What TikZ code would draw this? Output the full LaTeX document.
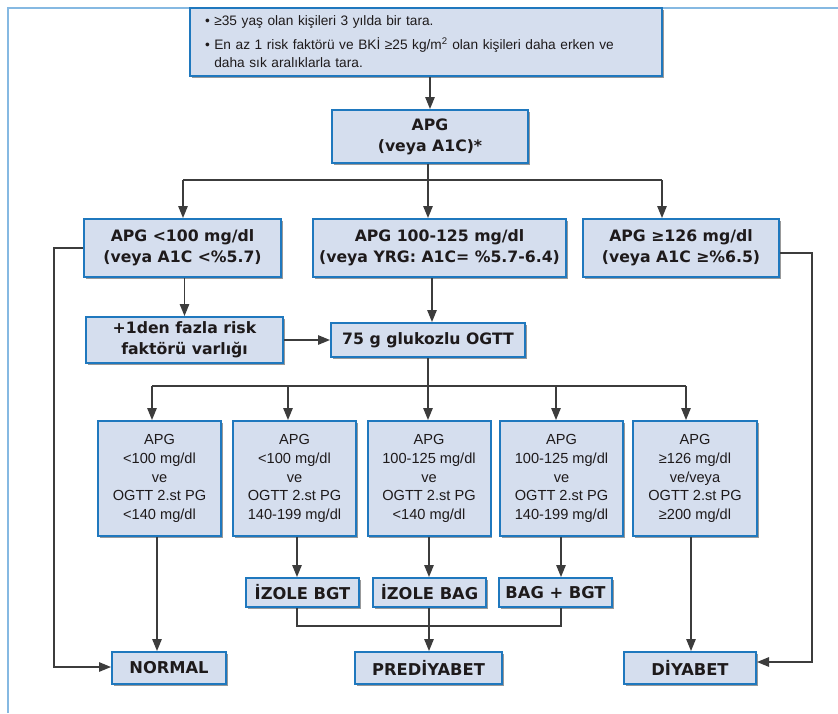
\documentclass[tikz,border=0pt]{standalone}
\usepackage{fontspec}
\setmainfont{Liberation Sans}
\newfontfamily\heavy{DejaVu Sans}
\usetikzlibrary{arrows.meta,shadows,calc}
\definecolor{boxfill}{HTML}{D5DEEE}
\definecolor{boxline}{HTML}{1F78BE}
\definecolor{frameblue}{HTML}{86B9E2}
\definecolor{conn}{HTML}{3C3C3C}
\definecolor{txt}{HTML}{1E1A1B}
\tikzset{
  box/.style={draw=boxline, line width=2pt, fill=boxfill, inner sep=0pt, align=center, text=txt,
    drop shadow={shadow xshift=1.5pt, shadow yshift=-1.5pt, opacity=0.4, fill=black}},
  bbox/.style={box, font=\heavy\bfseries\fontsize{15.7}{21}\selectfont},
  cbox/.style={box, font=\heavy\bfseries\fontsize{16.3}{21}\selectfont},
  sbox/.style={box, font=\fontsize{14.6}{18.8}\selectfont},
  cline/.style={draw=conn, line width=1.3pt},
  arr/.style={cline, -{Triangle[length=12pt,width=9.5pt]}},
  framestyle/.style={draw=frameblue, line width=2pt},
}
\begin{document}
\begin{tikzpicture}[x=1pt,y=-1pt]
\useasboundingbox (0,0) rectangle (838,713);
\draw[framestyle] (8,713) -- (8,8) -- (838,8);

% top box
\node[box, align=left, inner xsep=15pt, text width=442pt, minimum height=68pt,
      font=\fontsize{13.7}{18}\selectfont] (top) at (426,42)
  {\textbullet\ ≥35 yaş olan kişileri 3 yılda bir tara.\\[6pt]
   \textbullet\ En az 1 risk faktörü ve BKİ ≥25 kg/m\textsuperscript{2} olan kişileri daha erken ve\\
   \hphantom{\textbullet\ }daha sık aralıklarla tara.};

\node[bbox, minimum width=196pt, minimum height=53pt] (apg) at (430,136.5) {APG\\(veya A1C)*};

% row 2
\node[bbox, minimum width=197pt, minimum height=58pt] (r2a) at (182.5,248) {APG <100 mg/dl\\(veya A1C <\%5.7)};
\node[bbox, minimum width=253pt, minimum height=58pt] (r2b) at (439.5,248) {APG 100-125 mg/dl\\(veya YRG: A1C= \%5.7-6.4)};
\node[bbox, minimum width=196pt, minimum height=58pt] (r2c) at (681,248) {APG ≥126 mg/dl\\(veya A1C ≥\%6.5)};

% row 3
\node[bbox, minimum width=197pt, minimum height=46pt] (risk) at (184.5,340) {+1den fazla risk\\faktörü varlığı};
\node[bbox, minimum width=194pt, minimum height=34pt] (ogtt) at (428,340) {75 g glukozlu OGTT};

% row 4
\node[sbox, minimum width=123pt, minimum height=115pt] (b1) at (159.5,478.5) {APG\\<100 mg/dl\\ve\\OGTT 2.st PG\\<140 mg/dl};
\node[sbox, minimum width=123pt, minimum height=115pt] (b2) at (294.5,478.5) {APG\\<100 mg/dl\\ve\\OGTT 2.st PG\\140-199 mg/dl};
\node[sbox, minimum width=123pt, minimum height=115pt] (b3) at (429,478.5) {APG\\100-125 mg/dl\\ve\\OGTT 2.st PG\\<140 mg/dl};
\node[sbox, minimum width=123pt, minimum height=115pt] (b4) at (561.5,478.5) {APG\\100-125 mg/dl\\ve\\OGTT 2.st PG\\140-199 mg/dl};
\node[sbox, minimum width=124pt, minimum height=115pt] (b5) at (695,478.5) {APG\\≥126 mg/dl\\ve/veya\\OGTT 2.st PG\\≥200 mg/dl};

% row 5
\node[cbox, minimum width=113pt, minimum height=29pt] (z1) at (302.5,592.5) {İZOLE BGT};
\node[cbox, minimum width=113pt, minimum height=29pt] (z2) at (429.5,592.5) {İZOLE BAG};
\node[cbox, minimum width=113pt, minimum height=29pt] (z3) at (555.5,592.5) {BAG + BGT};

% row 6
\node[cbox, minimum width=114pt, minimum height=32pt] (nrm) at (169,668) {NORMAL};
\node[cbox, minimum width=147pt, minimum height=32pt] (pre) at (428.5,668) {PREDİYABET};
\node[cbox, minimum width=132pt, minimum height=32pt] (dia) at (690,668) {DİYABET};

% connectors
\draw[arr] (top.south -| apg.north) -- (apg.north);

\coordinate (j0) at (428,180);
\coordinate (j0L) at (183,180);
\coordinate (j0R) at (662,180);
\draw[cline] (apg.south -| j0) -- (j0);
\draw[cline] (j0L) -- (j0R);
\draw[arr] (j0L) -- (j0L |- r2a.north);
\draw[arr] (j0) -- (j0 |- r2b.north);
\draw[arr] (j0R) -- (j0R |- r2c.north);

\coordinate (lx) at (54,400);
\coordinate (rx) at (812,400);
\draw[arr] (r2a.west) -| (lx) |- ([yshift=1pt]nrm.west);
\draw[arr] ([yshift=-5pt]r2c.east) -| (rx) |- ([yshift=6pt]dia.east);

\draw[arr] (r2a.south -| risk.north) -- (risk.north);
\coordinate (j1) at (432,300);
\draw[arr] (r2b.south -| j1) -- (j1 |- ogtt.north);
\draw[arr] (risk.east) -- (risk.east -| ogtt.west);

\coordinate (j2) at (428,386);
\coordinate (k1) at (152,386);
\coordinate (k2) at (288,386);
\coordinate (k4) at (556,386);
\coordinate (k5) at (686,386);
\draw[cline] (ogtt.south -| j2) -- (j2);
\draw[cline] (k1) -- (k5);
\draw[arr] (k1) -- (k1 |- b1.north);
\draw[arr] (k2) -- (k2 |- b2.north);
\draw[arr] (j2) -- (j2 |- b3.north);
\draw[arr] (k4) -- (k4 |- b4.north);
\draw[arr] (k5) -- (k5 |- b5.north);

\coordinate (m1) at (157,560);
\coordinate (m2) at (297,560);
\coordinate (m3) at (429,560);
\coordinate (m4) at (561,560);
\coordinate (m5) at (691,560);
\draw[arr] (b1.south -| m1) -- (m1 |- nrm.north);
\draw[arr] (b2.south -| m2) -- (m2 |- z1.north);
\draw[arr] (b3.south -| m3) -- (m3 |- z2.north);
\draw[arr] (b4.south -| m4) -- (m4 |- z3.north);
\draw[arr] (b5.south -| m5) -- (m5 |- dia.north);

\coordinate (j3L) at (297,626);
\coordinate (j3) at (429,626);
\coordinate (j3R) at (561,626);
\draw[cline] (z1.south -| j3L) -- (j3L) -- (j3R) -- (z3.south -| j3R);
\draw[arr] (z2.south -| j3) -- (j3 |- pre.north);
\end{tikzpicture}
\end{document}
